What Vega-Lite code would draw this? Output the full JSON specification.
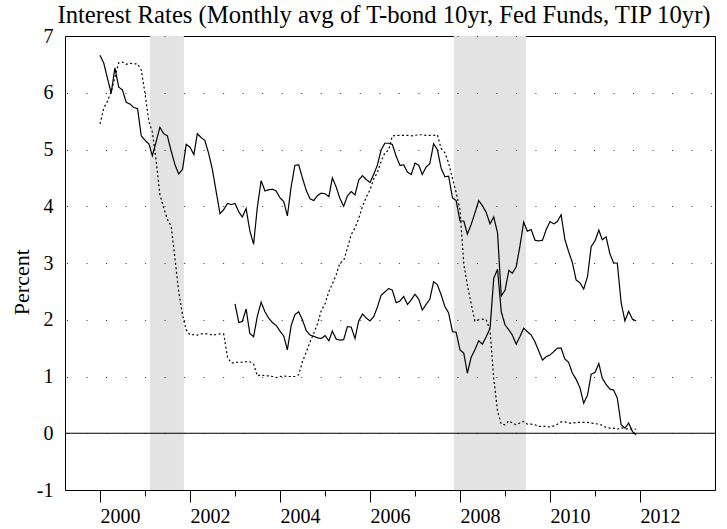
{
"$schema": "https://vega.github.io/schema/vega-lite/v6.json",
"width": 650, "height": 454,
"autosize": {"type": "none"},
"padding": {"left": 65, "top": 36, "right": 12, "bottom": 39},
"background": "white",
"config": {"view": {"stroke": "black", "strokeWidth": 1}, "font": "Liberation Serif",
 "axis": {"labelFont": "Liberation Serif", "titleFont": "Liberation Serif", "labelFontSize": 20, "labelColor": "black", "titleColor": "black"},
 "title": {"font": "Liberation Serif"}},
"title": {"text": "Interest Rates (Monthly avg of T-bond 10yr, Fed Funds, TIP 10yr)", "font": "Liberation Serif", "fontSize": 24.7, "fontWeight": "normal", "color": "black", "frame": "group", "anchor": "middle", "baseline": "alphabetic", "offset": -22, "dx": -6},
"datasets": {
"rec": [{"s": "2001-02-10", "e": "2001-11-12"}, {"s": "2007-11-12", "e": "2009-06-19"}],
"rates": [
{"d":"2000-01-01","tb":6.66,"ff":5.45,"tip":null},{"d":"2000-02-01","tb":6.52,"ff":5.73,"tip":null},{"d":"2000-03-01","tb":6.26,"ff":5.85,"tip":null},{"d":"2000-04-01","tb":5.99,"ff":6.02,"tip":null},{"d":"2000-05-01","tb":6.44,"ff":6.27,"tip":null},{"d":"2000-06-01","tb":6.10,"ff":6.53,"tip":null},{"d":"2000-07-01","tb":6.05,"ff":6.54,"tip":null},{"d":"2000-08-01","tb":5.83,"ff":6.50,"tip":null},{"d":"2000-09-01","tb":5.80,"ff":6.52,"tip":null},{"d":"2000-10-01","tb":5.74,"ff":6.51,"tip":null},{"d":"2000-11-01","tb":5.72,"ff":6.51,"tip":null},{"d":"2000-12-01","tb":5.24,"ff":6.40,"tip":null},
{"d":"2001-01-01","tb":5.16,"ff":5.98,"tip":null},{"d":"2001-02-01","tb":5.10,"ff":5.49,"tip":null},{"d":"2001-03-01","tb":4.89,"ff":5.31,"tip":null},{"d":"2001-04-01","tb":5.14,"ff":4.80,"tip":null},{"d":"2001-05-01","tb":5.39,"ff":4.21,"tip":null},{"d":"2001-06-01","tb":5.28,"ff":3.97,"tip":null},{"d":"2001-07-01","tb":5.24,"ff":3.77,"tip":null},{"d":"2001-08-01","tb":4.97,"ff":3.65,"tip":null},{"d":"2001-09-01","tb":4.73,"ff":3.07,"tip":null},{"d":"2001-10-01","tb":4.57,"ff":2.49,"tip":null},{"d":"2001-11-01","tb":4.65,"ff":2.09,"tip":null},{"d":"2001-12-01","tb":5.09,"ff":1.82,"tip":null},
{"d":"2002-01-01","tb":5.04,"ff":1.73,"tip":null},{"d":"2002-02-01","tb":4.91,"ff":1.74,"tip":null},{"d":"2002-03-01","tb":5.28,"ff":1.73,"tip":null},{"d":"2002-04-01","tb":5.21,"ff":1.75,"tip":null},{"d":"2002-05-01","tb":5.16,"ff":1.75,"tip":null},{"d":"2002-06-01","tb":4.93,"ff":1.75,"tip":null},{"d":"2002-07-01","tb":4.65,"ff":1.73,"tip":null},{"d":"2002-08-01","tb":4.26,"ff":1.74,"tip":null},{"d":"2002-09-01","tb":3.87,"ff":1.75,"tip":null},{"d":"2002-10-01","tb":3.94,"ff":1.75,"tip":null},{"d":"2002-11-01","tb":4.05,"ff":1.34,"tip":null},{"d":"2002-12-01","tb":4.03,"ff":1.24,"tip":null},
{"d":"2003-01-01","tb":4.05,"ff":1.24,"tip":2.28},{"d":"2003-02-01","tb":3.90,"ff":1.26,"tip":1.95},{"d":"2003-03-01","tb":3.81,"ff":1.25,"tip":1.97},{"d":"2003-04-01","tb":3.96,"ff":1.26,"tip":2.19},{"d":"2003-05-01","tb":3.57,"ff":1.26,"tip":1.76},{"d":"2003-06-01","tb":3.33,"ff":1.22,"tip":1.70},{"d":"2003-07-01","tb":3.98,"ff":1.01,"tip":2.06},{"d":"2003-08-01","tb":4.45,"ff":1.03,"tip":2.31},{"d":"2003-09-01","tb":4.27,"ff":1.01,"tip":2.14},{"d":"2003-10-01","tb":4.29,"ff":1.01,"tip":2.03},{"d":"2003-11-01","tb":4.30,"ff":1.00,"tip":1.95},{"d":"2003-12-01","tb":4.27,"ff":0.98,"tip":1.90},
{"d":"2004-01-01","tb":4.15,"ff":1.00,"tip":1.80},{"d":"2004-02-01","tb":4.08,"ff":1.01,"tip":1.71},{"d":"2004-03-01","tb":3.83,"ff":1.00,"tip":1.47},{"d":"2004-04-01","tb":4.35,"ff":1.00,"tip":1.90},{"d":"2004-05-01","tb":4.72,"ff":1.00,"tip":2.09},{"d":"2004-06-01","tb":4.73,"ff":1.03,"tip":2.14},{"d":"2004-07-01","tb":4.50,"ff":1.26,"tip":2.00},{"d":"2004-08-01","tb":4.28,"ff":1.43,"tip":1.81},{"d":"2004-09-01","tb":4.13,"ff":1.61,"tip":1.73},{"d":"2004-10-01","tb":4.10,"ff":1.76,"tip":1.71},{"d":"2004-11-01","tb":4.19,"ff":1.93,"tip":1.68},{"d":"2004-12-01","tb":4.23,"ff":2.16,"tip":1.67},
{"d":"2005-01-01","tb":4.22,"ff":2.28,"tip":1.72},{"d":"2005-02-01","tb":4.17,"ff":2.50,"tip":1.63},{"d":"2005-03-01","tb":4.50,"ff":2.63,"tip":1.80},{"d":"2005-04-01","tb":4.34,"ff":2.79,"tip":1.66},{"d":"2005-05-01","tb":4.14,"ff":3.00,"tip":1.64},{"d":"2005-06-01","tb":4.00,"ff":3.04,"tip":1.65},{"d":"2005-07-01","tb":4.18,"ff":3.26,"tip":1.88},{"d":"2005-08-01","tb":4.26,"ff":3.50,"tip":1.87},{"d":"2005-09-01","tb":4.20,"ff":3.62,"tip":1.67},{"d":"2005-10-01","tb":4.46,"ff":3.78,"tip":1.98},{"d":"2005-11-01","tb":4.54,"ff":4.00,"tip":2.10},{"d":"2005-12-01","tb":4.47,"ff":4.16,"tip":2.03},
{"d":"2006-01-01","tb":4.42,"ff":4.29,"tip":1.98},{"d":"2006-02-01","tb":4.57,"ff":4.49,"tip":2.06},{"d":"2006-03-01","tb":4.72,"ff":4.59,"tip":2.22},{"d":"2006-04-01","tb":4.99,"ff":4.79,"tip":2.43},{"d":"2006-05-01","tb":5.11,"ff":4.94,"tip":2.49},{"d":"2006-06-01","tb":5.11,"ff":4.99,"tip":2.55},{"d":"2006-07-01","tb":5.09,"ff":5.24,"tip":2.52},{"d":"2006-08-01","tb":4.88,"ff":5.25,"tip":2.30},{"d":"2006-09-01","tb":4.72,"ff":5.25,"tip":2.33},{"d":"2006-10-01","tb":4.73,"ff":5.25,"tip":2.41},{"d":"2006-11-01","tb":4.60,"ff":5.25,"tip":2.27},{"d":"2006-12-01","tb":4.56,"ff":5.24,"tip":2.35},
{"d":"2007-01-01","tb":4.76,"ff":5.25,"tip":2.45},{"d":"2007-02-01","tb":4.72,"ff":5.26,"tip":2.36},{"d":"2007-03-01","tb":4.56,"ff":5.26,"tip":2.17},{"d":"2007-04-01","tb":4.69,"ff":5.25,"tip":2.27},{"d":"2007-05-01","tb":4.75,"ff":5.25,"tip":2.36},{"d":"2007-06-01","tb":5.10,"ff":5.25,"tip":2.67},{"d":"2007-07-01","tb":5.00,"ff":5.26,"tip":2.62},{"d":"2007-08-01","tb":4.67,"ff":5.02,"tip":2.44},{"d":"2007-09-01","tb":4.52,"ff":4.94,"tip":2.23},{"d":"2007-10-01","tb":4.53,"ff":4.76,"tip":2.12},{"d":"2007-11-01","tb":4.15,"ff":4.49,"tip":1.79},{"d":"2007-12-01","tb":4.10,"ff":4.24,"tip":1.78},
{"d":"2008-01-01","tb":3.74,"ff":3.94,"tip":1.47},{"d":"2008-02-01","tb":3.74,"ff":2.98,"tip":1.41},{"d":"2008-03-01","tb":3.51,"ff":2.61,"tip":1.06},{"d":"2008-04-01","tb":3.68,"ff":2.28,"tip":1.34},{"d":"2008-05-01","tb":3.88,"ff":1.98,"tip":1.47},{"d":"2008-06-01","tb":4.10,"ff":2.00,"tip":1.63},{"d":"2008-07-01","tb":4.01,"ff":2.01,"tip":1.57},{"d":"2008-08-01","tb":3.89,"ff":2.00,"tip":1.70},{"d":"2008-09-01","tb":3.69,"ff":1.81,"tip":1.85},{"d":"2008-10-01","tb":3.81,"ff":0.97,"tip":2.73},{"d":"2008-11-01","tb":3.53,"ff":0.39,"tip":2.89},{"d":"2008-12-01","tb":2.42,"ff":0.16,"tip":2.14},
{"d":"2009-01-01","tb":2.52,"ff":0.15,"tip":1.91},{"d":"2009-02-01","tb":2.87,"ff":0.22,"tip":1.82},{"d":"2009-03-01","tb":2.82,"ff":0.18,"tip":1.73},{"d":"2009-04-01","tb":2.93,"ff":0.15,"tip":1.57},{"d":"2009-05-01","tb":3.29,"ff":0.18,"tip":1.70},{"d":"2009-06-01","tb":3.72,"ff":0.21,"tip":1.85},{"d":"2009-07-01","tb":3.56,"ff":0.16,"tip":1.79},{"d":"2009-08-01","tb":3.59,"ff":0.16,"tip":1.73},{"d":"2009-09-01","tb":3.40,"ff":0.15,"tip":1.61},{"d":"2009-10-01","tb":3.39,"ff":0.12,"tip":1.45},{"d":"2009-11-01","tb":3.40,"ff":0.12,"tip":1.29},{"d":"2009-12-01","tb":3.59,"ff":0.12,"tip":1.35},
{"d":"2010-01-01","tb":3.73,"ff":0.11,"tip":1.38},{"d":"2010-02-01","tb":3.69,"ff":0.13,"tip":1.44},{"d":"2010-03-01","tb":3.73,"ff":0.16,"tip":1.50},{"d":"2010-04-01","tb":3.85,"ff":0.20,"tip":1.50},{"d":"2010-05-01","tb":3.42,"ff":0.20,"tip":1.31},{"d":"2010-06-01","tb":3.20,"ff":0.18,"tip":1.25},{"d":"2010-07-01","tb":3.01,"ff":0.18,"tip":1.06},{"d":"2010-08-01","tb":2.70,"ff":0.19,"tip":0.95},{"d":"2010-09-01","tb":2.65,"ff":0.19,"tip":0.80},{"d":"2010-10-01","tb":2.54,"ff":0.19,"tip":0.53},{"d":"2010-11-01","tb":2.76,"ff":0.19,"tip":0.67},{"d":"2010-12-01","tb":3.29,"ff":0.18,"tip":1.04},
{"d":"2011-01-01","tb":3.39,"ff":0.17,"tip":1.07},{"d":"2011-02-01","tb":3.58,"ff":0.16,"tip":1.23},{"d":"2011-03-01","tb":3.41,"ff":0.14,"tip":0.97},{"d":"2011-04-01","tb":3.46,"ff":0.10,"tip":0.86},{"d":"2011-05-01","tb":3.17,"ff":0.09,"tip":0.78},{"d":"2011-06-01","tb":3.00,"ff":0.09,"tip":0.76},{"d":"2011-07-01","tb":3.00,"ff":0.07,"tip":0.62},{"d":"2011-08-01","tb":2.30,"ff":0.10,"tip":0.15},{"d":"2011-09-01","tb":1.98,"ff":0.08,"tip":0.09},{"d":"2011-10-01","tb":2.15,"ff":0.07,"tip":0.18},{"d":"2011-11-01","tb":2.01,"ff":0.08,"tip":0.03},{"d":"2011-12-01","tb":1.98,"ff":0.07,"tip":-0.03}
]},
"layer": [
{"data": {"name": "rec"}, "mark": {"type": "rect", "color": "#e3e3e3"},
 "encoding": {
  "x": {"field": "s", "type": "temporal", "scale": {"type": "utc", "domain": [{"year": 1999, "month": 3, "date": 23, "utc": true}, {"year": 2013, "month": 9, "date": 1, "utc": true}]}, "title": null},
  "x2": {"field": "e"}}},
{"data": {"values": [{"z": 0}]}, "mark": {"type": "rule", "color": "black", "strokeWidth": 1}, "encoding": {"y": {"field": "z", "type": "quantitative", "title": "Percent"}}},
{"data": {"name": "rates"},
 "transform": [{"fold": ["tb", "ff", "tip"], "as": ["series", "value"]}],
 "mark": {"type": "line", "color": "black", "strokeWidth": 1.2},
 "encoding": {
  "x": {"field": "d", "type": "temporal", "scale": {"type": "utc"}, "title": null,
   "axis": {"title": null, "values": [{"year": 2000, "utc": true}, {"year": 2001, "utc": true}, {"year": 2002, "utc": true}, {"year": 2003, "utc": true}, {"year": 2004, "utc": true}, {"year": 2005, "utc": true}, {"year": 2006, "utc": true}, {"year": 2007, "utc": true}, {"year": 2008, "utc": true}, {"year": 2009, "utc": true}, {"year": 2010, "utc": true}, {"year": 2011, "utc": true}, {"year": 2012, "utc": true}],
    "format": "%Y", "formatType": "utc", "labelExpr": "utcyear(datum.value) % 2 === 0 ? datum.label : ''",
    "grid": false, "domainColor": "black", "tickColor": "black",
    "tickSize": {"condition": {"test": "utcyear(datum.value) % 2 === 0", "value": 12}, "value": 6},
    "labelAlign": "left", "labelBaseline": "top", "labelPadding": 4, "labelFont": "Liberation Serif", "labelFontSize": 20, "labelColor": "black", "labelFlush": false, "labelOverlap": false}},
  "y": {"field": "value", "type": "quantitative", "scale": {"domain": [-1, 7], "nice": false, "zero": false}, "title": "Percent",
   "axis": {"title": "Percent", "values": [-1, 0, 1, 2, 3, 4, 5, 6, 7], "labelExpr": "'' + datum.value", "ticks": false, "domain": false,
    "labelPadding": 12, "labelFont": "Liberation Serif", "labelFontSize": 20, "labelColor": "black",
    "grid": true, "gridColor": "black", "gridDash": [1, 18.52], "gridDashOffset": 18.04, "gridWidth": 1, "gridOpacity": 0.8, "zindex": 1,
    "titleFont": "Liberation Serif", "titleFontSize": 22, "titleFontWeight": "normal", "titleColor": "black", "titleAngle": -90, "titleX": -36.5, "titleY": 245.7, "titleBaseline": "alphabetic", "titleAlign": "center"}},
  "strokeDash": {"field": "series", "type": "nominal", "scale": {"domain": ["tb", "ff", "tip"], "range": [[1, 0], [2, 2.5], [1, 0]]}, "legend": null},
  "detail": {"field": "series"}}}
]
}
